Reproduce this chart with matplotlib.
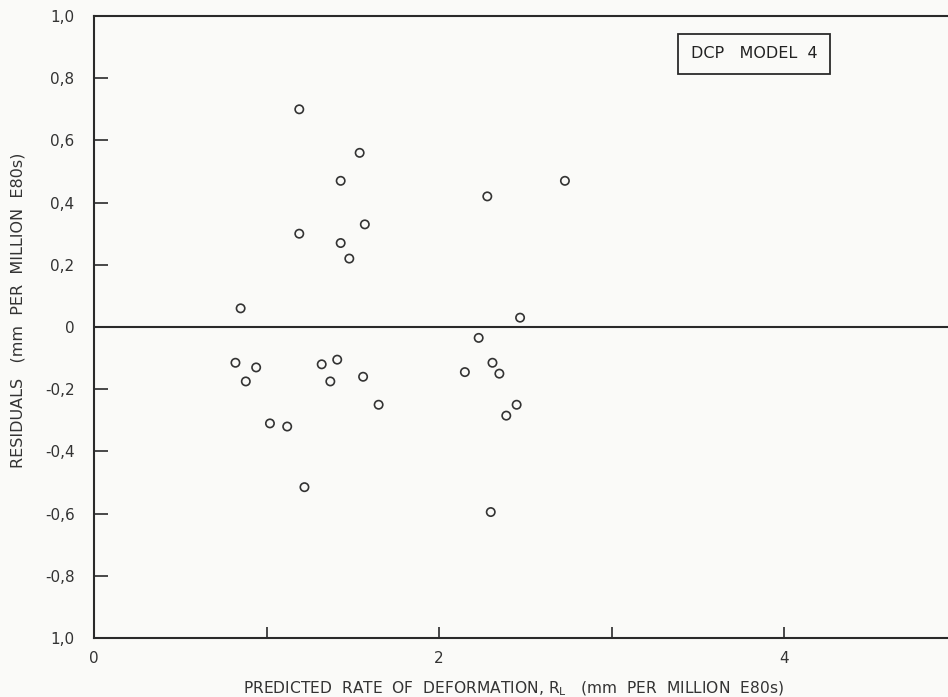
import matplotlib
matplotlib.use("Agg")
import matplotlib.pyplot as plt

# Data
pred_rate = [1.19, 1.54, 1.43, 1.57, 1.19, 1.43, 1.48, 0.85,
             0.82, 0.94, 0.88, 1.32, 1.41, 1.37, 1.56, 1.65, 1.02, 1.12, 1.22,
             2.73, 2.28, 2.47, 2.23, 2.31, 2.15, 2.35, 2.45, 2.39, 2.30]
residuals = [0.70, 0.56, 0.47, 0.33, 0.30, 0.27, 0.22, 0.06,
             -0.115, -0.13, -0.175, -0.12, -0.105, -0.175, -0.16, -0.25, -0.31, -0.32, -0.515,
             0.47, 0.42, 0.03, -0.035, -0.115, -0.145, -0.15, -0.25, -0.285, -0.595]

y_ticks = [1.0, 0.8, 0.6, 0.4, 0.2, 0.0, -0.2, -0.4, -0.6, -0.8, -1.0]
y_tick_labels = ["1,0", "0,8", "0,6", "0,4", "0,2", "0", "-0,2", "-0,4", "-0,6", "-0,8", "1,0"]
x_minor_ticks = [1, 2, 3, 4]
x_label_ticks = [0, 2, 4]
x_tick_labels = ["0", "2", "4"]

ink = "#2a2a2a"
txt = "#333333"
plt.rcParams['font.family'] = ['DejaVu Sans']

W, H = 948, 697
fig = plt.figure(figsize=(W / 100, H / 100), dpi=100)
fig.patch.set_facecolor("#fafaf8")

left_px, right_px, top_px, bottom_px = 94, 948, 16, 638
ax = fig.add_axes([left_px / W, 1 - bottom_px / H,
                   (right_px - left_px) / W, (bottom_px - top_px) / H])
ax.set_facecolor("#fafaf8")
ax.set_xlim(0, (right_px - left_px) / 172.5)
ax.set_ylim(-1.0, 1.0)

for side in ["left", "top", "bottom"]:
    ax.spines[side].set_color(ink)
    ax.spines[side].set_linewidth(1.5)
ax.spines["right"].set_visible(False)

ax.axhline(0, color=ink, lw=1.5, zorder=2)

ax.scatter(pred_rate, residuals, s=36, facecolors="none", edgecolors="#333333",
           linewidths=1.2, zorder=3)

# y ticks: inward
ax.set_yticks(y_ticks)
ax.set_yticklabels(y_tick_labels, fontsize=11, color=txt)
ax.tick_params(axis="y", direction="in", length=10, width=1.2, color=ink, pad=14)

# x ticks: inward marks at 1..4, labels at 0,2,4 only
ax.set_xticks(x_minor_ticks)
ax.set_xticklabels([])
ax.tick_params(axis="x", direction="in", length=8, width=1.2, color=ink)
for xv, lab in zip(x_label_ticks, x_tick_labels):
    ax.text(xv, -1.065, lab, ha="center", va="center",
            fontsize=11, color=txt, clip_on=False)

fig.text(513 / W, 1 - 689 / H,
         "PREDICTED  RATE  OF  DEFORMATION, R$_\\mathregular{L}$   (mm  PER  MILLION  E80s)",
         ha="center", va="center", fontsize=11.2, color=txt)
fig.text(18 / W, 1 - 310 / H, "RESIDUALS   (mm  PER  MILLION  E80s)",
         ha="center", va="center", rotation=90, fontsize=11.5, color=txt)

ax.text((754 - left_px) / 172.5, (327 - 54) / 311, "DCP   MODEL  4",
        ha="center", va="center", fontsize=11.5, color="#222222", zorder=4,
        bbox=dict(boxstyle="square,pad=0.8", facecolor="none", edgecolor=ink, linewidth=1.3))

fig.savefig("out.png", dpi=100, facecolor=fig.get_facecolor())
